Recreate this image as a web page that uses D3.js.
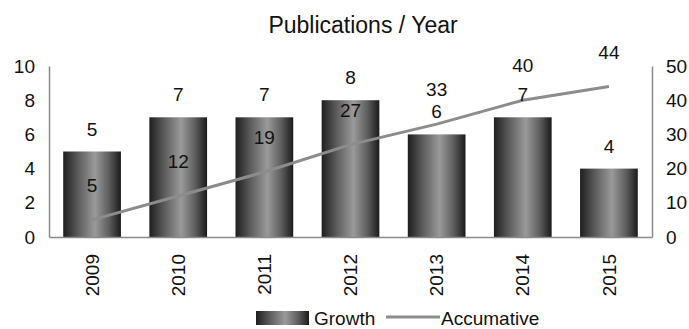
<!DOCTYPE html>
<html>
<head>
<meta charset="utf-8">
<script src="https://cdn.jsdelivr.net/npm/d3@7"></script>
<style>
  body { margin: 0; background: #fff; }
  text { font-family: "Liberation Sans", Arial, sans-serif; fill: #111; }
</style>
</head>
<body>
<div id="chart"></div>
<script>
var years = ["2009", "2010", "2011", "2012", "2013", "2014", "2015"];
var growth = [5, 7, 7, 8, 6, 7, 4];
var accumative = [5, 12, 19, 27, 33, 40, 44];
var leftTicks = [0, 2, 4, 6, 8, 10];
var rightTicks = [0, 10, 20, 30, 40, 50];

var W = 689, H = 329;
var margin = {top: 66, right: 37, bottom: 92, left: 49};
var width = W - margin.left - margin.right,
    height = H - margin.top - margin.bottom;
var fs = "19px";

var svg = d3.select("#chart").append("svg")
    .attr("width", W)
    .attr("height", H);

// gradient for the bars
var defs = svg.append("defs");
var grad = defs.append("linearGradient")
    .attr("id", "barGrad")
    .attr("x1", "0%").attr("x2", "100%")
    .attr("y1", "0%").attr("y2", "0%");
grad.append("stop").attr("offset", "0%").attr("stop-color", "#1e1e1e");
grad.append("stop").attr("offset", "25%").attr("stop-color", "#5a5a5a");
grad.append("stop").attr("offset", "55%").attr("stop-color", "#9a9a9a");
grad.append("stop").attr("offset", "80%").attr("stop-color", "#5c5c5c");
grad.append("stop").attr("offset", "100%").attr("stop-color", "#1a1a1a");

var g = svg.append("g")
    .attr("transform", "translate(" + margin.left + "," + margin.top + ")");

var x = d3.scaleBand()
    .domain(years)
    .range([0, width])
    .paddingInner(0.33)
    .paddingOuter(0.165);

var y = d3.scaleLinear().domain([0, 10]).range([height, 0]);
var y2 = d3.scaleLinear().domain([0, 50]).range([height, 0]);

// title
svg.append("text")
    .attr("x", 363)
    .attr("y", 33)
    .attr("text-anchor", "middle")
    .style("font-size", "23px")
    .text("Publications / Year");

// bars
g.selectAll(".bar")
    .data(years)
    .enter().append("rect")
    .attr("class", "bar")
    .attr("x", function (d) { return x(d); })
    .attr("width", x.bandwidth())
    .attr("y", function (d, i) { return y(growth[i]); })
    .attr("height", function (d, i) { return height - y(growth[i]); })
    .style("fill", "url(#barGrad)");

// axes
var leftAxis = g.append("g")
    .call(d3.axisLeft(y).tickValues(leftTicks).tickSize(0).tickPadding(14));
var rightAxis = g.append("g")
    .attr("transform", "translate(" + width + ",0)")
    .call(d3.axisRight(y2).tickValues(rightTicks).tickSize(0).tickPadding(14));
var bottomAxis = g.append("g")
    .attr("transform", "translate(0," + height + ")")
    .call(d3.axisBottom(x).tickSize(0));

[leftAxis, rightAxis, bottomAxis].forEach(function (a) {
    a.select(".domain").attr("stroke", "#8a8a8a").attr("stroke-width", 1.5);
    a.selectAll("text")
        .style("font-size", fs)
        .style("font-family", "'Liberation Sans', Arial, sans-serif")
        .attr("fill", "#111");
});

bottomAxis.selectAll("text")
    .attr("transform", "rotate(-90)")
    .attr("x", -17)
    .attr("y", 0)
    .attr("dy", "0.35em")
    .style("text-anchor", "end");

// accumulative line
var line = d3.line()
    .x(function (d, i) { return x(years[i]) + x.bandwidth() / 2; })
    .y(function (d) { return y2(d); });

g.append("path")
    .datum(accumative)
    .attr("d", line)
    .attr("fill", "none")
    .attr("stroke", "#8c8c8c")
    .attr("stroke-width", 3);

// labels
g.selectAll(".glabel")
    .data(growth)
    .enter().append("text")
    .attr("class", "glabel")
    .attr("x", function (d, i) { return x(years[i]) + x.bandwidth() / 2; })
    .attr("y", function (d) { return y(d) - 16; })
    .attr("text-anchor", "middle")
    .style("font-size", fs)
    .text(function (d) { return d; });

g.selectAll(".alabel")
    .data(accumative)
    .enter().append("text")
    .attr("class", "alabel")
    .attr("x", function (d, i) { return x(years[i]) + x.bandwidth() / 2; })
    .attr("y", function (d) { return y2(d) - 28; })
    .attr("text-anchor", "middle")
    .style("font-size", fs)
    .text(function (d) { return d; });

// legend
var legend = svg.append("g").attr("transform", "translate(256,311)");
legend.append("rect")
    .attr("width", 53).attr("height", 14)
    .style("fill", "url(#barGrad)");
legend.append("text")
    .attr("x", 58).attr("y", 14)
    .style("font-size", fs)
    .text("Growth");
legend.append("line")
    .attr("x1", 130).attr("x2", 184)
    .attr("y1", 6).attr("y2", 6)
    .attr("stroke", "#8c8c8c").attr("stroke-width", 3);
legend.append("text")
    .attr("x", 185).attr("y", 14)
    .style("font-size", fs)
    .text("Accumative");
</script>
</body>
</html>
